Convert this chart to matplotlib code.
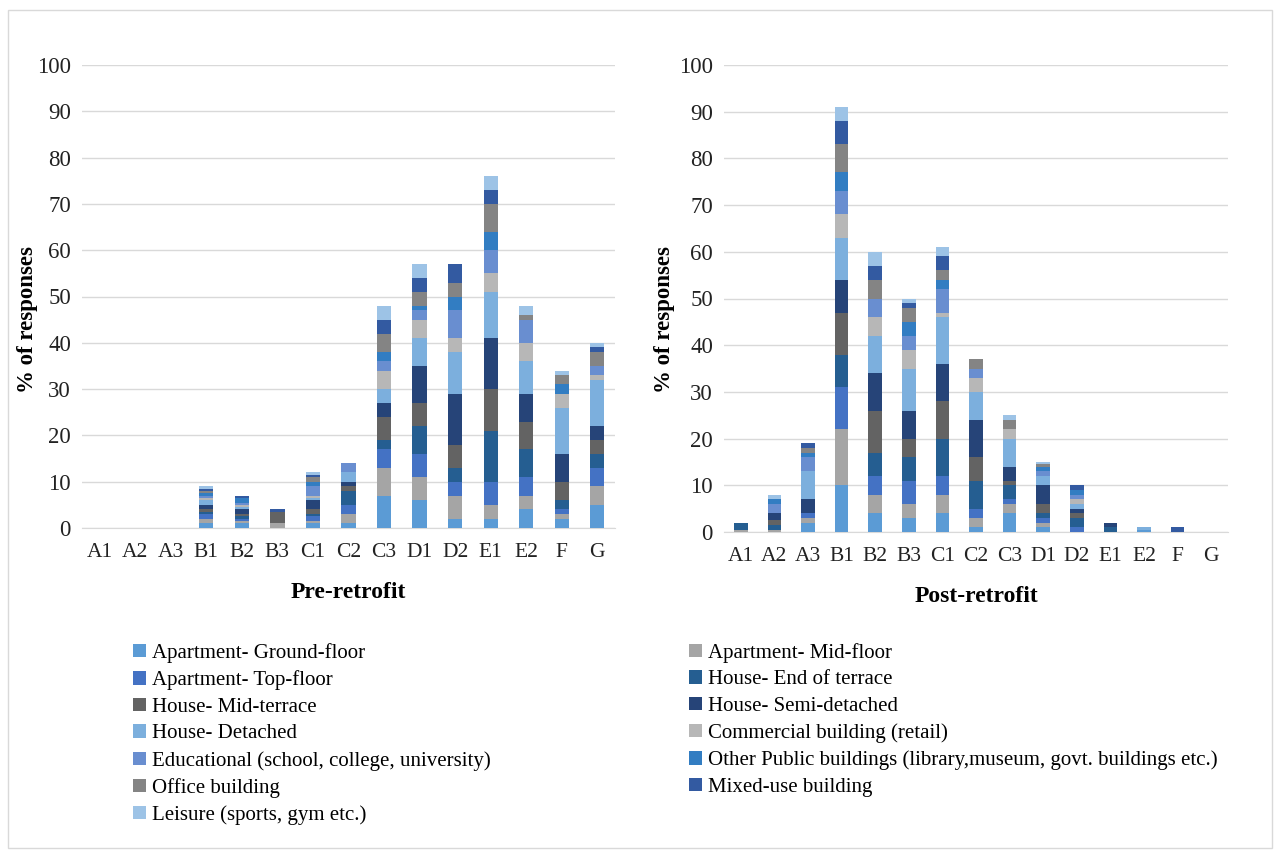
import numpy as np
import matplotlib.pyplot as plt
from matplotlib.patches import Patch, Rectangle

plt.rcParams['font.family'] = ['Liberation Serif', 'DejaVu Serif']

# Data
categories = ['A1', 'A2', 'A3', 'B1', 'B2', 'B3', 'C1', 'C2', 'C3', 'D1', 'D2', 'E1', 'E2', 'F', 'G']
series_names = [
    'Apartment- Ground-floor', 'Apartment- Mid-floor', 'Apartment- Top-floor',
    'House- End of terrace', 'House- Mid-terrace', 'House- Semi-detached',
    'House- Detached', 'Commercial building (retail)',
    'Educational (school, college, university)',
    'Other Public buildings (library,museum, govt. buildings etc.)',
    'Office building', 'Mixed-use building', 'Leisure (sports, gym etc.)',
]
colors = ['#5B9BD5', '#A5A5A5', '#4472C4', '#255E91', '#636363', '#264478',
          '#7CAFDD', '#B7B7B7', '#698ED0', '#327DC2', '#848484', '#335AA1', '#9DC3E6']

pre_ground = [0, 0, 0, 1, 1, 0, 1, 1, 7, 6, 2, 2, 4, 2, 5]
pre_mid = [0, 0, 0, 1, .5, 1, .5, 2, 6, 5, 5, 3, 3, 1, 4]
pre_top = [0, 0, 0, 1, .5, 0, 1, 2, 4, 5, 3, 5, 4, 1, 4]
pre_end_terrace = [0, 0, 0, .5, .5, 0, .5, 3, 2, 6, 3, 11, 6, 2, 3]
pre_mid_terrace = [0, 0, 0, .5, .5, 2.5, 1, 1, 5, 5, 5, 9, 6, 4, 3]
pre_semi = [0, 0, 0, 1, 1, 0, 2, 1, 3, 8, 11, 11, 6, 6, 3]
pre_detached = [0, 0, 0, 1, .5, 0, .5, 2, 3, 6, 9, 10, 7, 10, 10]
pre_commercial = [0, 0, 0, .5, .5, 0, .5, 0, 4, 4, 3, 4, 4, 3, 1]
pre_educational = [0, 0, 0, .5, .5, 0, 2, 2, 2, 2, 6, 5, 5, 0, 2]
pre_public = [0, 0, 0, .5, 1, 0, 1, 0, 2, 1, 3, 4, 0, 2, 0]
pre_office = [0, 0, 0, .5, 0, 0, 1, 0, 4, 3, 3, 6, 1, 2, 3]
pre_mixed = [0, 0, 0, .5, .5, .5, .5, 0, 3, 3, 4, 3, 0, 0, 1]
pre_leisure = [0, 0, 0, .5, 0, 0, .5, 0, 3, 3, 0, 3, 2, 1, 1]

post_ground = [0, 0, 2, 10, 4, 3, 4, 1, 4, 1, 0, 0, .5, 0, 0]
post_mid = [.5, .5, 1, 12, 4, 3, 4, 2, 2, 1, 0, 0, 0, 0, 0]
post_top = [0, 0, 1, 9, 4, 5, 4, 2, 1, 1, 1, 0, 0, 0, 0]
post_end_terrace = [1.5, 1, 0, 7, 5, 5, 8, 6, 3, 1, 2, 1, 0, 0, 0]
post_mid_terrace = [0, 1, 0, 9, 9, 4, 8, 5, 1, 2, 1, 0, 0, 0, 0]
post_semi = [0, 1.5, 3, 7, 8, 6, 8, 8, 3, 4, 1, 1, 0, 0, 0]
post_detached = [0, 0, 6, 9, 8, 9, 10, 6, 6, 2, 1, 0, .5, 0, 0]
post_commercial = [0, 0, 0, 5, 4, 4, 1, 3, 2, 0, 1, 0, 0, 0, 0]
post_educational = [0, 2, 3, 5, 4, 3, 5, 2, 0, 1, 1, 0, 0, 0, 0]
post_public = [0, 1, 1, 4, 0, 3, 2, 0, 0, 1, 1, 0, 0, 0, 0]
post_office = [0, 0, 1, 6, 4, 3, 2, 2, 2, .5, 0, 0, 0, 0, 0]
post_mixed = [0, 0, 1, 5, 3, 1, 3, 0, 0, 0, 1, 0, 0, 1, 0]
post_leisure = [0, 1, 0, 3, 3, 1, 2, 0, 1, .5, 0, 0, 0, 0, 0]

pre_series = [pre_ground, pre_mid, pre_top, pre_end_terrace, pre_mid_terrace, pre_semi,
              pre_detached, pre_commercial, pre_educational, pre_public, pre_office,
              pre_mixed, pre_leisure]
post_series = [post_ground, post_mid, post_top, post_end_terrace, post_mid_terrace, post_semi,
               post_detached, post_commercial, post_educational, post_public, post_office,
               post_mixed, post_leisure]

fig = plt.figure(figsize=(12.8, 8.52), dpi=100)
fig.patches.append(Rectangle((8 / 1280, 1 - 848 / 852), 1264 / 1280, 838 / 852,
                             transform=fig.transFigure, fill=False,
                             edgecolor='#D9D9D9', lw=1))

ax1 = fig.add_axes([82 / 1280, 1 - 528 / 852, 533 / 1280, 463 / 852])
ax2 = fig.add_axes([724 / 1280, 1 - 532 / 852, 504 / 1280, 467 / 852])


def draw(ax, series, title, ylab_pos):
    x = np.arange(len(categories))
    bottom = np.zeros(len(categories))
    for vals, c in zip(series, colors):
        ax.bar(x, vals, 0.4, bottom=bottom, color=c, zorder=3)
        bottom += np.array(vals)
    ax.set_xlim(-0.5, len(categories) - 0.5)
    ax.set_ylim(0, 100)
    ax.set_yticks(range(0, 101, 10))
    ax.set_xticks(x)
    ax.set_xticklabels(categories)
    ax.grid(axis='y', color='#D9D9D9', lw=1, zorder=0)
    for s in ['top', 'right', 'left']:
        ax.spines[s].set_visible(False)
    ax.spines['bottom'].set_color('#D9D9D9')
    ax.tick_params(length=0, colors='#222222')
    ax.tick_params(axis='y', pad=8, labelsize=16.5)
    ax.tick_params(axis='x', pad=11, labelsize=15.5)
    ax.set_xlabel(title, fontsize=17, fontweight='bold', labelpad=14)
    ax.set_ylabel('% of responses', fontsize=16.5, fontweight='bold')
    ax.yaxis.set_label_coords(*ylab_pos)


draw(ax1, pre_series, 'Pre-retrofit', (-0.083, 0.45))
draw(ax2, post_series, 'Post-retrofit', (-0.097, 0.455))

handles = [Patch(facecolor=c, label=n) for c, n in zip(colors, series_names)]
leg_kw = dict(frameon=False, fontsize=15, handlelength=0.6, handleheight=0.6,
              handletextpad=0.3, labelspacing=0.36, borderpad=0, borderaxespad=0)
fig.legend(handles=handles[0::2], loc='upper left',
           bbox_to_anchor=(133 / 1280, 1 - 643 / 852), **leg_kw)
fig.legend(handles=handles[1::2], loc='upper left',
           bbox_to_anchor=(689 / 1280, 1 - 643 / 852), **leg_kw)

fig.savefig('out.png', dpi=100)
